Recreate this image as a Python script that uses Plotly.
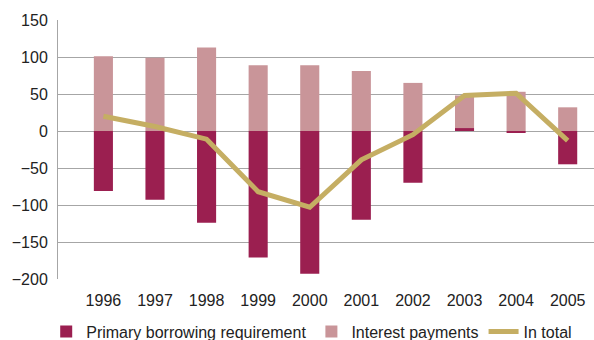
import plotly.graph_objects as go

years = ["1996", "1997", "1998", "1999", "2000", "2001", "2002", "2003", "2004", "2005"]
primary_borrowing = [-81, -93, -124, -171, -193, -120, -70, 4, -2, -45]
interest_payments = [101, 99, 113, 89, 89, 81, 65, 44, 53, 32]
in_total = [20, 6, -11, -82, -103, -39, -5, 48, 51, -13]
y_ticks = [-200, -150, -100, -50, 0, 50, 100, 150]

FONT = "Liberation Sans"
GRID = "#a6a6a6"

fig = go.Figure()
fig.add_trace(go.Bar(
    x=years, y=primary_borrowing, name="Primary borrowing requirement",
    marker=dict(color="#9b1f50", line=dict(width=0)), width=0.37,
))
fig.add_trace(go.Bar(
    x=years, y=interest_payments, name="Interest payments",
    marker=dict(color="#c99599", line=dict(width=0)), width=0.37,
))
fig.add_trace(go.Scatter(
    x=years, y=in_total, name="In total", mode="lines",
    line=dict(color="#c5ae63", width=5),
))

fig.update_layout(
    width=594, height=340,
    margin=dict(l=58, r=0, t=20, b=61, autoexpand=False),
    barmode="relative",
    plot_bgcolor="white", paper_bgcolor="white",
    font=dict(family=FONT, size=16, color="#222222"),
    showlegend=True,
    legend=dict(
        orientation="h", x=-0.022, xref="paper", y=-0.137, yanchor="top",
        font=dict(size=16), itemwidth=30, traceorder="normal",
        bgcolor="rgba(0,0,0,0)",
    ),
)
fig.update_xaxes(
    type="category", range=[-0.88, 9.51], showgrid=False, zeroline=False,
    showline=False, ticks="", ticklabelstandoff=10,
)
fig.update_yaxes(
    range=[-200, 150], tickvals=y_ticks,
    ticktext=[str(v).replace("-", "\u2212") for v in y_ticks],
    showgrid=True, gridcolor=GRID, gridwidth=1,
    zeroline=True, zerolinecolor=GRID, zerolinewidth=1,
    showline=True, linecolor=GRID, linewidth=1, ticks="",
    ticklabelstandoff=6,
)

fig.write_html("out.html")
